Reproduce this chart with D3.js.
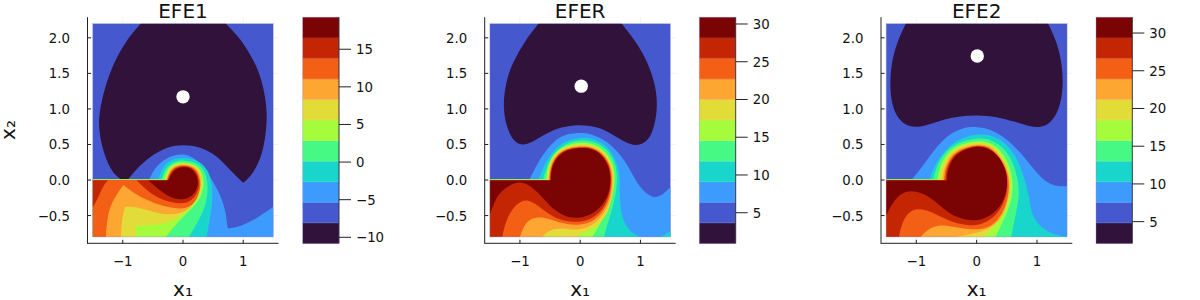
<!DOCTYPE html>
<html><head><meta charset="utf-8">
<script src="https://cdn.jsdelivr.net/npm/d3@7"></script>
<style>html,body{margin:0;padding:0;background:#fff}svg{display:block}text{font-family:"DejaVu Sans";fill:#111}</style>
</head><body><svg id="c" width="1200" height="300"></svg>
<script>
const colors=["#30123b","#4558cd","#3e9bfe","#18d6cb","#46f884","#a4fc3c","#e2dc38","#fea632","#f35f14","#c42503","#7a0403"];
const titles=["EFE1","EFER","EFE2"];
const xTicks=[-1,0,1];
const yTicks=[-0.5,0,0.5,1,1.5,2];
const levels1=[-10.8,-8.07,-5.33,-2.6,0.13,2.87,5.6,8.33,11.07,13.8,16.53,19.26];
const levels2=[0.95,3.67,6.4,9.12,11.84,14.57,17.29,20.01,22.73,25.46,28.18,30.9];
const levels3=[2.13,4.85,7.58,10.3,13.03,15.75,18.48,21.2,23.93,26.65,29.38,32.1];
const cbTicks1=[-10,-5,0,5,10,15];
const cbTicks2=[5,10,15,20,25,30];
const cbTicks3=[5,10,15,20,25,30];
const goal1=[0,1.17], goal2=[0.017,1.32], goal3=[0.01,1.745];

// contours in data units: [x,y] or [x,y,1] for a sharp corner
const low1=[[-.7,2.2,1],[-.94,1.97],[-1.16,1.64],[-1.31,1.27],[-1.39,.94],[-1.4,.75],[-1.35,.47],[-1.24,.21],[-1.13,.07],[-1.035,.01,1],[-.91,.01,1],[-.77,.16],[-.55,.33],[-.27,.47],[0,.5],[.28,.47],[.56,.35],[.78,.14],[1,-.04,1],[1.17,.09],[1.33,.38],[1.4,.8],[1.38,1.13],[1.28,1.5],[1.11,1.78],[.92,2.02],[.71,2.2,1]];
const lvl2a=[[-.56,.014],[-.44,.21],[-.22,.34],[0,.375],[.23,.305],[.45,.05],[.64,-.235],[.715,-.47],[.74,-.68,1],[.95,-.66],[1.22,-.54],[1.5,-.375,1],[1.5,-.8,1]];
const lvl3a=[[-.41,.014],[-.338,.188],[-.188,.296],[.033,.319],[.271,.272],[.42,.141],[.493,-.07],[.493,-.329],[.393,-.8]];
const lvl4a=[[-.354,.014],[-.293,.164],[-.16,.263],[.033,.282],[.238,.244],[.365,.131],[.42,-.07],[.393,-.329],[.282,-.54],[.1,-.8]];
const lvl5a=[[-.316,.008],[-.26,.164],[-.144,.235],[.033,.254],[.216,.216],[.32,.117],[.36,-.07],[.282,-.282],[.116,-.423],[-.078,-.587],[-.288,-.8]];
const lvl6a=[[-.293,.004],[-.238,.155],[-.127,.22],[.033,.239],[.205,.202],[.3,.113],[.332,-.047],[.255,-.21],[.116,-.4],[-.08,-.54],[-.327,-.62],[-.576,-.638],[-.786,-.648,1],[-.786,-.8]];
const lvl7a=[[-.277,.001],[-.221,.141],[-.122,.207],[.033,.225],[.194,.192],[.282,.103],[.316,-.07],[.227,-.282],[.06,-.446],[-.16,-.493],[-.437,-.47],[-.714,-.385],[-.963,-.376,1],[-1.02,-.587],[-1.03,-.8]];
const lvl8a=[[-.266,-.001],[-.21,.131],[-.116,.197],[.033,.211],[.183,.178],[.26,.094],[.3,-.07],[.255,-.235],[.144,-.376],[-.05,-.413],[-.354,-.366],[-.604,-.282],[-.825,-.178],[-.99,-.07,1],[-1.185,-.305],[-1.257,-.516],[-1.28,-.8]];
const lvl9a=[[-.255,-.003],[-.2,.117],[-.105,.183],[.033,.202],[.172,.164],[.238,.085],[.282,-.047],[.238,-.188],[.116,-.319],[-.078,-.338],[-.354,-.282],[-.576,-.164],[-.77,-.003,1]];
const corner1=[[-1.24,-.003,1],[-1.323,-.07],[-1.423,-.282],[-1.5,-.385,1],[-1.5,-.003,1]];
const lvl10a=[[-.244,-.005,1],[-.188,.103],[-.094,.169],[.033,.188],[.172,.15],[.238,.047],[.255,-.07],[.2,-.188],[.089,-.258],[-.05,-.282],[-.216,-.244],[-.41,-.131],[-.576,-.005,1]];

const low2=[[-.69,2.2,1],[-.91,1.97],[-1.13,1.64],[-1.24,1.36],[-1.283,1.03],[-1.228,.75],[-1.106,.54],[-.967,.484],[-.8,.526],[-.606,.634],[-.383,.728],[-.106,.775],[.172,.765],[.394,.714],[.617,.596],[.839,.493],[.978,.484],[1.144,.563],[1.239,.775],[1.283,1.03],[1.256,1.31],[1.144,1.615],[.95,1.92],[.689,2.2,1]];
const lvl2b=[[-.839,.014],[-.711,.235],[-.544,.446],[-.35,.61],[-.156,.657],[.039,.667],[.233,.634],[.456,.54],[.65,.376],[.817,.164],[.956,-.07],[1.122,-.211],[1.261,-.258],[1.4,-.188],[1.5,-.094,1],[1.5,-.8,1]];
const lvl3b=[[-.683,.014],[-.6,.211],[-.461,.4],[-.267,.549],[.011,.606],[.261,.577],[.456,.469],[.594,.282],[.665,.07],[.65,-.164],[.667,-.4],[.733,-.634],[.9,-.775],[1.011,-.8]];
const cornerB=[[1.344,-.8,1],[1.5,-.718,1],[1.5,-.8,1]];
const lvl4b=[[-.615,.014],[-.54,.22],[-.42,.39],[-.22,.525],[.011,.565],[.25,.54],[.44,.445],[.57,.27],[.62,.07],[.6,-.164],[.522,-.446],[.428,-.681],[.4,-.8]];
const lvl5b=[[-.565,.008],[-.55,.14],[-.5,.29],[-.39,.42],[-.18,.505],[.039,.53],[.222,.51],[.405,.42],[.535,.25],[.58,.07],[.56,-.141],[.483,-.352],[.344,-.61],[.2,-.8]];
const lvl6b=[[-.54,.004],[-.53,.141],[-.48,.28],[-.37,.41],[-.17,.485],[.039,.505],[.206,.487],[.39,.405],[.515,.24],[.56,.07],[.545,-.211],[.456,-.469],[.317,-.634],[.094,-.728],[-.067,-.8]];
const lvl7b=[[-.525,.001],[-.515,.141],[-.465,.275],[-.355,.4],[-.167,.47],[.039,.49],[.206,.472],[.375,.395],[.5,.235],[.545,.07],[.53,-.211],[.45,-.4],[.317,-.563],[.122,-.681],[-.1,-.704],[-.322,-.671],[-.517,-.704],[-.628,-.8]];
const lvl8b=[[-.51,-.001],[-.5,.141],[-.45,.27],[-.345,.39],[-.167,.455],[.039,.475],[.206,.457],[.36,.385],[.485,.235],[.53,.07],[.52,-.141],[.47,-.305],[.362,-.469],[.206,-.587],[.011,-.634],[-.239,-.624],[-.461,-.563],[-.656,-.516],[-.822,-.54],[-.933,-.634],[-1,-.8]];
const lvl9b=[[-.5,-.003],[-.49,.141],[-.44,.265],[-.333,.385],[-.167,.445],[.039,.465],[.206,.447],[.35,.375],[.47,.235],[.515,.07],[.505,-.141],[.43,-.33],[.317,-.469],[.122,-.577],[-.1,-.596],[-.35,-.563],[-.544,-.469],[-.711,-.352],[-.85,-.282],[-.989,-.291],[-1.128,-.4],[-1.239,-.587],[-1.294,-.8]];
const lvl10b=[[-.489,-.005],[-.478,.141],[-.433,.258],[-.322,.376],[-.156,.437],[.039,.455],[.206,.437],[.344,.366],[.456,.235],[.505,.07],[.5,-.141],[.4,-.329],[.233,-.469],[.011,-.54],[-.211,-.526],[-.406,-.446],[-.6,-.268],[-.767,-.117],[-.933,-.033],[-1.072,-.033],[-1.267,-.117],[-1.406,-.258],[-1.5,-.493,1]];

const low3=[[-1.172,2.2,1],[-1.328,1.925],[-1.411,1.643],[-1.439,1.362],[-1.411,1.08],[-1.328,.892],[-1.189,.775],[-1.022,.737],[-.8,.775],[-.55,.854],[-.272,.901],[.006,.911],[.339,.892],[.617,.822],[.894,.751],[1.061,.737],[1.228,.798],[1.367,.986],[1.433,1.268],[1.422,1.596],[1.339,1.925],[1.183,2.2,1]];
const lvl2c=[[-1.067,.014],[-.9,.188],[-.706,.423],[-.483,.634],[-.233,.737],[0,.751],[.239,.718],[.489,.587],[.739,.376],[.933,.164],[1.128,-.023],[1.322,-.094],[1.5,-.085,1],[1.5,-.8,1]];
const lvl3c=[[-.778,.014],[-.706,.188],[-.567,.376],[-.344,.563],[0,.657],[.294,.624],[.517,.493],[.683,.282],[.794,.023],[.878,-.258],[.906,-.493],[1.072,-.681],[1.294,-.775],[1.5,-.795,1],[1.5,-.8,1]];
const lvl4c=[[-.717,.014],[-.67,.18],[-.55,.37],[-.35,.52],[0,.6],[.267,.563],[.461,.446],[.6,.258],[.683,.023],[.711,-.211],[.656,-.446],[.572,-.8]];
const lvl5c=[[-.65,.008],[-.62,.17],[-.51,.36],[-.33,.49],[0,.56],[.239,.53],[.406,.41],[.528,.235],[.6,.023],[.6,-.235],[.489,-.493],[.311,-.8]];
const lvl6c=[[-.606,.004],[-.585,.16],[-.48,.35],[-.31,.47],[0,.535],[.228,.505],[.378,.385],[.5,.211],[.565,.023],[.561,-.211],[.47,-.43],[.34,-.6],[.12,-.8]];
const lvl7c=[[-.567,.001],[-.55,.155],[-.45,.335],[-.29,.45],[0,.515],[.22,.485],[.365,.37],[.485,.211],[.55,.023],[.545,-.164],[.5,-.376],[.378,-.587],[.128,-.728],[-.344,-.8]];
const lvl8c=[[-.54,-.001],[-.525,.15],[-.43,.325],[-.28,.43],[0,.5],[.21,.47],[.35,.36],[.47,.2],[.535,.023],[.535,-.164],[.48,-.38],[.36,-.56],[.183,-.681],[-.05,-.704],[-.383,-.657],[-.606,-.624],[-.8,-.68],[-.928,-.8]];
const lvl9c=[[-.517,-.003],[-.505,.145],[-.415,.315],[-.27,.42],[0,.49],[.2,.46],[.34,.35],[.46,.2],[.52,0],[.5,-.2],[.41,-.4],[.267,-.54],[.072,-.634],[-.15,-.643],[-.4,-.596],[-.622,-.502],[-.817,-.423],[-.983,-.4],[-1.122,-.446],[-1.233,-.587],[-1.289,-.8]];
const lvl10c=[[-.494,-.005],[-.483,.141],[-.4,.305],[-.261,.408],[0,.484],[.211,.446],[.378,.329],[.489,.141],[.517,-.047],[.461,-.282],[.322,-.446],[.128,-.549],[-.067,-.577],[-.289,-.54],[-.483,-.455],[-.678,-.305],[-.872,-.188],[-1.094,-.141],[-1.261,-.188],[-1.4,-.329],[-1.5,-.5,1]];

const xExtent=[-1.5,1.5], yExtent=[-.8,2.2];

// [contour, colour index, how it closes]
const panels=[
 {title:titles[0],ox:[87.5,278.5],cb:[302.7,339],levels:levels1,cbTicks:cbTicks1,goal:goal1,ylab:true,
  layers:[[low1,0,"self"],[lvl2a,2,"left"],[lvl3a,3,"left"],[lvl4a,4,"left"],[lvl5a,5,"left"],[lvl6a,6,"left"],[lvl7a,7,"left"],[lvl8a,8,"left"],[lvl9a,9,"self"],[corner1,9,"self"],[lvl10a,10,"self"]]},
 {title:titles[1],ox:[484.7,675.7],cb:[699.3,735.7],levels:levels2,cbTicks:cbTicks2,goal:goal2,
  layers:[[low2,0,"self"],[lvl2b,2,"left"],[lvl3b,3,"left"],[cornerB,3,"self"],[lvl4b,4,"left"],[lvl5b,5,"left"],[lvl6b,6,"left"],[lvl7b,7,"left"],[lvl8b,8,"left"],[lvl9b,9,"left"],[lvl10b,10,"edge"]]},
 {title:titles[2],ox:[881,1072.3],cb:[1096,1132.3],levels:levels3,cbTicks:cbTicks3,goal:goal3,
  layers:[[low3,0,"self"],[lvl2c,2,"left"],[lvl3c,3,"left"],[lvl4c,4,"left"],[lvl5c,5,"left"],[lvl6c,6,"left"],[lvl7c,7,"left"],[lvl8c,8,"left"],[lvl9c,9,"left"],[lvl10c,10,"edge"]]}
];

const svg=d3.select("#c");
const plotTop=17.2,plotBottom=243.3;
const fmt=v=>String(v).replace("-","\u2212");
const fmt1=v=>d3.format(".1f")(v).replace("-","\u2212");

panels.forEach((p,pi)=>{
  const x=d3.scaleLinear().domain([-1.585,1.585]).range(p.ox);
  const y=d3.scaleLinear().domain([-.89,2.29]).range([plotBottom,plotTop]);
  const g=svg.append("g");
  const line=d3.line().x(d=>x(d[0])).y(d=>y(d[1])).curve(d3.curveBasis);
  // a smooth run between sharp points, straight edges along the box
  const smooth=pts=>{
    const runs=[];let cur=[pts[0]];
    pts.slice(1).forEach((q,i)=>{cur.push(q);if(q[2]||i===pts.length-2){runs.push(cur);cur=[q];}});
    return runs.map((r,i)=>{const s=line(r);return i?s.replace(/^M/,"L"):s;}).join("");
  };

  // faint grid
  xTicks.forEach(t=>g.append("line").attr("x1",x(t)).attr("x2",x(t)).attr("y1",plotTop).attr("y2",plotBottom).attr("stroke","#000").attr("stroke-opacity",.09).attr("stroke-width",.6));
  yTicks.forEach(t=>g.append("line").attr("x1",p.ox[0]).attr("x2",p.ox[1]).attr("y1",y(t)).attr("y2",y(t)).attr("stroke","#000").attr("stroke-opacity",.09).attr("stroke-width",.6));

  const cid="clip"+pi;
  svg.append("clipPath").attr("id",cid).append("rect")
    .attr("x",x(xExtent[0])).attr("y",y(yExtent[1]))
    .attr("width",x(xExtent[1])-x(xExtent[0])).attr("height",y(yExtent[0])-y(yExtent[1]));
  const heat=g.append("g").attr("clip-path",`url(#${cid})`);
  heat.append("rect").attr("x",x(xExtent[0])).attr("y",y(yExtent[1]))
    .attr("width",x(xExtent[1])-x(xExtent[0])).attr("height",y(yExtent[0])-y(yExtent[1]))
    .attr("fill",colors[1]);

  p.layers.forEach(([pts,ci,mode])=>{
    const first=pts[0];
    let d=smooth(pts);
    if(mode==="left") d+=`L${x(xExtent[0])},${y(yExtent[0])}L${x(xExtent[0])},${y(first[1])}`;
    else if(mode==="edge") d+=`L${x(xExtent[0])},${y(first[1])}`;
    heat.append("path").attr("d",d+"Z").attr("fill",colors[ci]);
  });

  // heatmap edge
  g.append("rect").attr("x",x(xExtent[0])).attr("y",y(yExtent[1]))
    .attr("width",x(xExtent[1])-x(xExtent[0])).attr("height",y(yExtent[0])-y(yExtent[1]))
    .attr("fill","none").attr("stroke","#8f8cc8").attr("stroke-opacity",.55).attr("stroke-width",.7);

  g.append("circle").attr("cx",x(p.goal[0])).attr("cy",y(p.goal[1])).attr("r",6.7).attr("fill","#fff");

  // axes
  g.append("line").attr("x1",p.ox[0]).attr("x2",p.ox[0]).attr("y1",plotTop).attr("y2",plotBottom+.5).attr("stroke","#222").attr("stroke-width",1);
  g.append("line").attr("x1",p.ox[0]).attr("x2",p.ox[1]).attr("y1",plotBottom).attr("y2",plotBottom).attr("stroke","#222").attr("stroke-width",1);
  xTicks.forEach(t=>{
    g.append("line").attr("x1",x(t)).attr("x2",x(t)).attr("y1",plotBottom).attr("y2",plotBottom-3.5).attr("stroke","#222");
    g.append("text").attr("x",x(t)).attr("y",266).attr("text-anchor","middle").attr("font-size",13.3).text(fmt(t));
  });
  yTicks.forEach(t=>{
    g.append("line").attr("x1",p.ox[0]).attr("x2",p.ox[0]+3.5).attr("y1",y(t)).attr("y2",y(t)).attr("stroke","#222");
    g.append("text").attr("x",p.ox[0]-17.5).attr("y",y(t)+5).attr("text-anchor","end").attr("font-size",13.3).text(fmt1(t));
  });
  g.append("text").attr("x",(p.ox[0]+p.ox[1])/2).attr("y",18).attr("text-anchor","middle").attr("font-size",20).text(p.title);
  g.append("text").attr("x",(p.ox[0]+p.ox[1])/2).attr("y",296).attr("text-anchor","middle").attr("font-size",20).text("x\u2081");
  if(p.ylab) g.append("text").attr("transform","translate(15,130) rotate(-90)").attr("text-anchor","middle").attr("font-size",20).text("x\u2082");

  // colourbar
  const cy=d3.scaleLinear().domain([p.levels[0],p.levels[p.levels.length-1]]).range([plotBottom,plotTop]);
  colors.forEach((c,i)=>{
    g.append("rect").attr("x",p.cb[0]).attr("width",p.cb[1]-p.cb[0])
      .attr("y",cy(p.levels[i+1])).attr("height",cy(p.levels[i])-cy(p.levels[i+1])+.4)
      .attr("fill",c);
  });
  p.levels.slice(1,-1).forEach(v=>g.append("line").attr("x1",p.cb[0]).attr("x2",p.cb[1]).attr("y1",cy(v)).attr("y2",cy(v)).attr("stroke","#fff").attr("stroke-opacity",.18).attr("stroke-width",.7));
  g.append("rect").attr("x",p.cb[0]).attr("width",p.cb[1]-p.cb[0]).attr("y",plotTop).attr("height",plotBottom-plotTop)
    .attr("fill","none").attr("stroke","#8f8cc8").attr("stroke-opacity",.55).attr("stroke-width",.7);
  g.append("line").attr("x1",p.cb[1]).attr("x2",p.cb[1]).attr("y1",plotTop).attr("y2",plotBottom).attr("stroke","#222").attr("stroke-width",.8);
  p.cbTicks.forEach(t=>{
    g.append("line").attr("x1",p.cb[1]).attr("x2",p.cb[1]+12).attr("y1",cy(t)).attr("y2",cy(t)).attr("stroke","#222");
    g.append("text").attr("x",p.cb[1]+17).attr("y",cy(t)+5).attr("font-size",13.3).text(fmt(t));
  });
});
</script></body></html>
